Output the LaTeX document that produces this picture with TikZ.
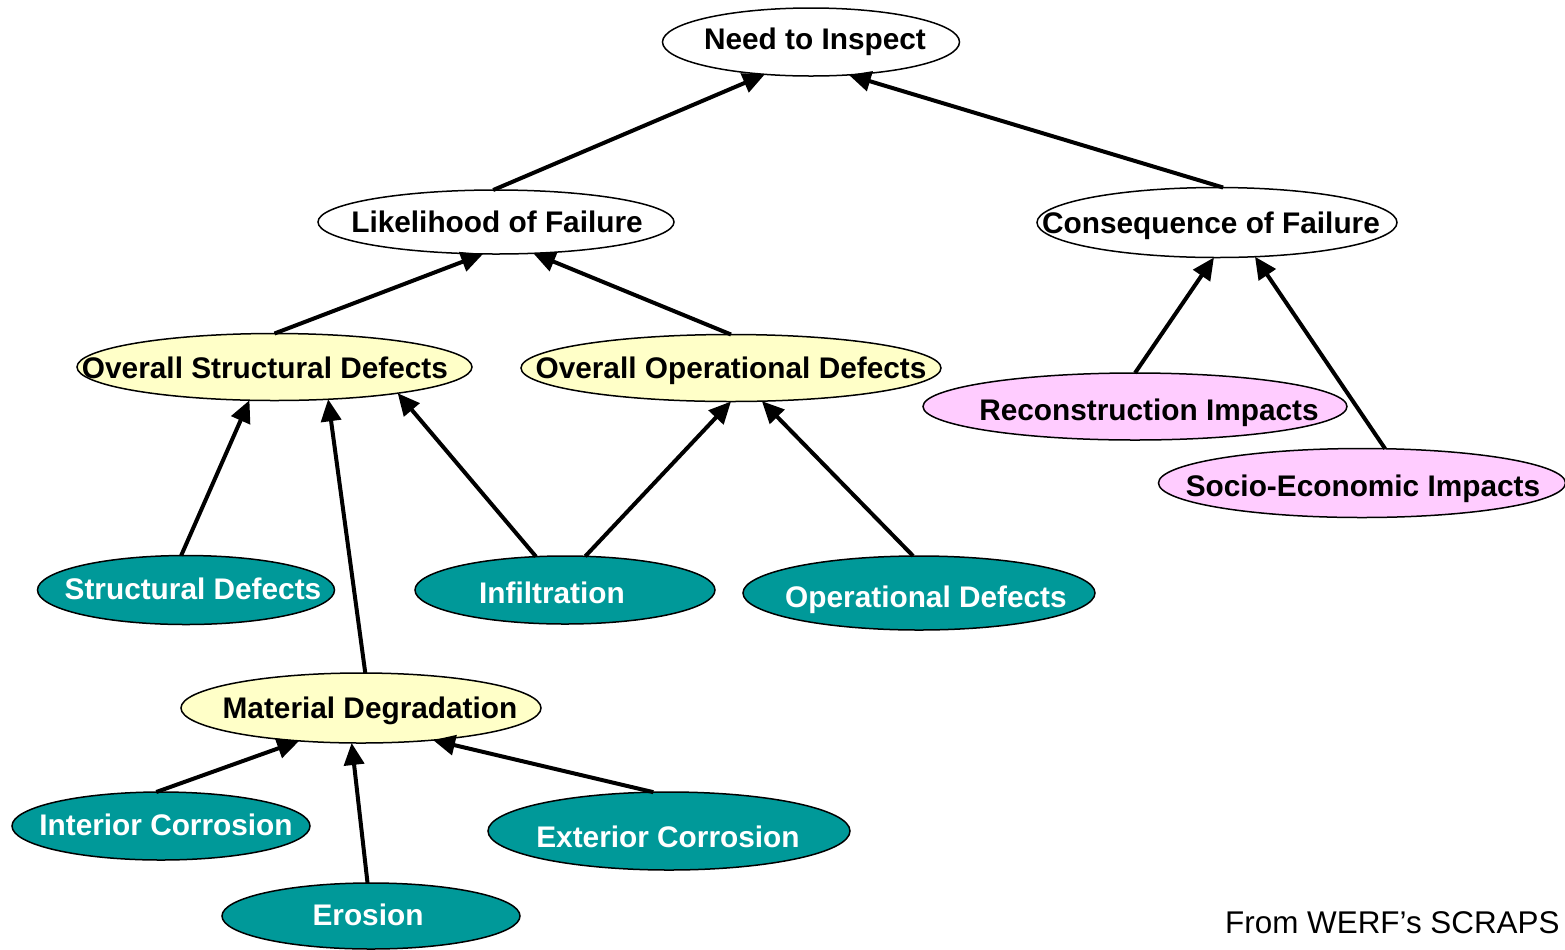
\documentclass[tikz,border=0pt]{standalone}
\usepackage{fontspec}
\setmainfont{Liberation Sans}
\usetikzlibrary{shapes.geometric,arrows.meta}
\definecolor{tealfill}{HTML}{009999}
\definecolor{yelfill}{HTML}{FFFFC8}
\definecolor{pinkfill}{HTML}{FFCCFF}
\begin{document}
\begin{tikzpicture}[x=0.5pt,y=-0.5pt,
  ell/.style={ellipse,draw=black,line width=0.75pt,inner sep=0pt,outer sep=0pt},
  white/.style={ell,fill=white},
  yel/.style={ell,fill=yelfill},
  pink/.style={ell,fill=pinkfill},
  teal/.style={ell,fill=tealfill},
  lbl/.style={anchor=base,inner sep=0pt,font=\fontsize{14.9}{17}\selectfont\bfseries},
  wlbl/.style={lbl,text=white},
  conn/.style={line width=2pt,-{Triangle[length=11pt,width=10pt]}}
]
\useasboundingbox (0,0) rectangle (1565,949);
% ellipses
\node[white,minimum width=148.5pt,minimum height=34pt] (nti) at (811,42) {};
\node[white,minimum width=178pt,minimum height=32pt] (lof) at (496,222) {};
\node[white,minimum width=180pt,minimum height=35pt] (cof) at (1217,222.5) {};
\node[yel,minimum width=197.5pt,minimum height=33.5pt] (osd) at (274.5,367) {};
\node[yel,minimum width=210pt,minimum height=33.5pt] (ood) at (731,368) {};
\node[pink,minimum width=212pt,minimum height=33.5pt] (rec) at (1135,406.5) {};
\node[pink,minimum width=203.5pt,minimum height=34.5pt] (soc) at (1362,483) {};
\node[teal,minimum width=148.5pt,minimum height=34.5pt] (sd) at (186,590) {};
\node[teal,minimum width=150pt,minimum height=34pt] (inf) at (565,590) {};
\node[teal,minimum width=176pt,minimum height=37pt] (opd) at (919,593) {};
\node[yel,minimum width=180pt,minimum height=35pt] (md) at (361,708) {};
\node[teal,minimum width=149pt,minimum height=34pt] (ic) at (161,826) {};
\node[teal,minimum width=181pt,minimum height=39pt] (ec) at (669,831) {};
\node[teal,minimum width=149pt,minimum height=33pt] (er) at (371,916) {};
% labels
\node[lbl] (tnti) at (815,49) {Need to Inspect};
\node[lbl] (tlof) at (497,232) {Likelihood of Failure};
\node[lbl] (tcof) at (1211,233) {Consequence of Failure};
\node[lbl] (tosd) at (265,378) {Overall Structural Defects};
\node[lbl] (tood) at (731,378) {Overall Operational Defects};
\node[lbl] (trec) at (1149,420) {Reconstruction Impacts};
\node[lbl] (tsoc) at (1363,496) {Socio-Economic Impacts};
\node[wlbl] (tsd) at (193,599) {Structural Defects};
\node[wlbl] (tinf) at (552,603) {Infiltration};
\node[wlbl] (topd) at (926,607) {Operational Defects};
\node[lbl] (tmd) at (370,718) {Material Degradation};
\node[wlbl] (tic) at (166,835) {Interior Corrosion};
\node[wlbl] (tec) at (668,847) {Exterior Corrosion};
\node[wlbl] (ter) at (368,925) {Erosion};
\node[anchor=base east,inner sep=0pt,font=\fontsize{15.7}{18}\selectfont] (src) at (1560,933) {From WERF’s SCRAPS};
% connectors
\draw[conn] (lof.95) -- (nti.215);
\draw[conn] (cof.80) -- (nti.-41.6);
\draw[conn] (osd.90) -- (lof.248.5);
\draw[conn] (ood.90) -- (lof.-40.4);
\draw[conn] (rec.90) -- (cof.265);
\draw[conn] (soc.56) -- (cof.-42);
\draw[conn] (sd.98.2) -- (osd.233.7);
\draw[conn] (md.83.5) -- (osd.-31.4);
\draw[conn] (inf.131) -- (osd.-12.4);
\draw[conn] (inf.59.3) -- (ood.270);
\draw[conn] (opd.99.5) -- (ood.-47.9);
\draw[conn] (ic.98.4) -- (md.208);
\draw[conn] (er.96.9) -- (md.255.6);
\draw[conn] (ec.112.4) -- (md.-24.7);
\end{tikzpicture}
\end{document}
